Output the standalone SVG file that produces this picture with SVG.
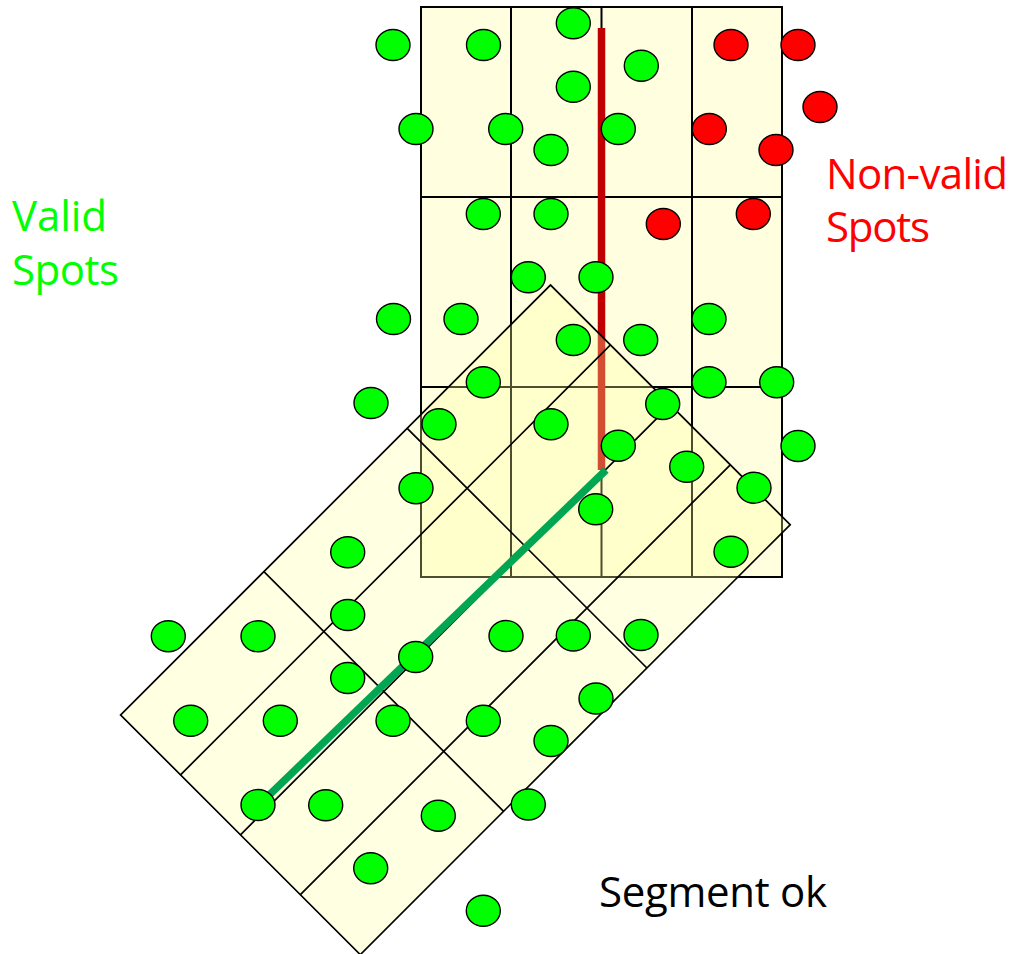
<svg xmlns="http://www.w3.org/2000/svg" width="1015" height="954" viewBox="0 0 1015 954">
<style>
.cell{fill:#ffffe0;stroke:#000;stroke-width:2}
.rgrid{fill:none;stroke:#000;stroke-width:1.7}
.g{fill:#00ff00;stroke:#000;stroke-width:1.4}
.r{fill:#ff0000;stroke:#000;stroke-width:1.4}
.lbl{font-family:"Open Sans","Noto Sans",sans-serif;font-size:42px}
</style>
<defs>
<ellipse id="spot" cx="0" cy="0" rx="17" ry="15.5"/>
</defs>
<rect width="1015" height="954" fill="#fff"/>
<g id="vertical-grid">
<rect class="cell" x="421" y="7" width="361" height="570"/>
<path d="M511,7V577M601.5,7V577M692,7V577M421,197H782M421,387H782" fill="none" stroke="#000" stroke-width="2"/>
</g>
<g id="connectors">
<line id="red-segment" x1="601.5" y1="28" x2="601.5" y2="470" stroke="#c00000" stroke-width="7.5"/>
</g>
<g id="rotated-grid" transform="translate(550.5,285) rotate(45)">
<rect x="0" y="0" width="339" height="608" fill="#ffffa0" fill-opacity="0.3"/>
<rect class="rgrid" x="0" y="0" width="339" height="608"/>
<path class="rgrid" d="M84.75,0V608M169.5,0V608M254.25,0V608M0,202.67H339M0,405.33H339"/>
</g>
<g id="connectors-green">
<line id="green-segment" x1="606" y1="470" x2="262" y2="802" stroke="#00a651" stroke-width="7.5"/>
</g>
<g id="valid-spots">
<g id="g1"><use href="#spot" class="g" x="393" y="45"/></g>
<g id="g2"><use href="#spot" class="g" x="483.5" y="45"/></g>
<g id="g3"><use href="#spot" class="g" x="573.3" y="23.3"/></g>
<g id="g4"><use href="#spot" class="g" x="641.3" y="65.7"/></g>
<g id="g5"><use href="#spot" class="g" x="573.3" y="86.7"/></g>
<g id="g6"><use href="#spot" class="g" x="416" y="129"/></g>
<g id="g7"><use href="#spot" class="g" x="505.7" y="129"/></g>
<g id="g8"><use href="#spot" class="g" x="551" y="150"/></g>
<g id="g9"><use href="#spot" class="g" x="618.3" y="129"/></g>
<g id="g10"><use href="#spot" class="g" x="483.3" y="214"/></g>
<g id="g11"><use href="#spot" class="g" x="551" y="214"/></g>
<g id="g12"><use href="#spot" class="g" x="528.3" y="277.3"/></g>
<g id="g13"><use href="#spot" class="g" x="596" y="277.3"/></g>
<g id="g14"><use href="#spot" class="g" x="393.5" y="319"/></g>
<g id="g15"><use href="#spot" class="g" x="461" y="319"/></g>
<g id="g16"><use href="#spot" class="g" x="573.3" y="340"/></g>
<g id="g17"><use href="#spot" class="g" x="640.7" y="340"/></g>
<g id="g18"><use href="#spot" class="g" x="709" y="319"/></g>
<g id="g19"><use href="#spot" class="g" x="483.3" y="382.3"/></g>
<g id="g20"><use href="#spot" class="g" x="709" y="382.3"/></g>
<g id="g21"><use href="#spot" class="g" x="776.7" y="382.3"/></g>
<g id="g22"><use href="#spot" class="g" x="371" y="403"/></g>
<g id="g23"><use href="#spot" class="g" x="439" y="424.3"/></g>
<g id="g24"><use href="#spot" class="g" x="551" y="424.3"/></g>
<g id="g25"><use href="#spot" class="g" x="662.7" y="404"/></g>
<g id="g26"><use href="#spot" class="g" x="618.3" y="445.7"/></g>
<g id="g27"><use href="#spot" class="g" x="798" y="446"/></g>
<g id="g28"><use href="#spot" class="g" x="686.7" y="466.7"/></g>
<g id="g29"><use href="#spot" class="g" x="416" y="488.3"/></g>
<g id="g30"><use href="#spot" class="g" x="754" y="487.7"/></g>
<g id="g31"><use href="#spot" class="g" x="595.7" y="509.3"/></g>
<g id="g32"><use href="#spot" class="g" x="731" y="551.7"/></g>
<g id="g33"><use href="#spot" class="g" x="347.7" y="552.3"/></g>
<g id="g34"><use href="#spot" class="g" x="347.7" y="615"/></g>
<g id="g35"><use href="#spot" class="g" x="168.3" y="636.3"/></g>
<g id="g36"><use href="#spot" class="g" x="258" y="636.3"/></g>
<g id="g37"><use href="#spot" class="g" x="506" y="636"/></g>
<g id="g38"><use href="#spot" class="g" x="573.3" y="635.5"/></g>
<g id="g39"><use href="#spot" class="g" x="641" y="635"/></g>
<g id="g40"><use href="#spot" class="g" x="415.7" y="657"/></g>
<g id="g41"><use href="#spot" class="g" x="347.7" y="678"/></g>
<g id="g42"><use href="#spot" class="g" x="596" y="698.5"/></g>
<g id="g43"><use href="#spot" class="g" x="190.7" y="720.7"/></g>
<g id="g44"><use href="#spot" class="g" x="280.3" y="720.7"/></g>
<g id="g45"><use href="#spot" class="g" x="393" y="720.7"/></g>
<g id="g46"><use href="#spot" class="g" x="483.3" y="720.7"/></g>
<g id="g47"><use href="#spot" class="g" x="551" y="741"/></g>
<g id="g48"><use href="#spot" class="g" x="258" y="805"/></g>
<g id="g49"><use href="#spot" class="g" x="325.7" y="805.3"/></g>
<g id="g50"><use href="#spot" class="g" x="438.3" y="815.7"/></g>
<g id="g51"><use href="#spot" class="g" x="528.3" y="804.5"/></g>
<g id="g52"><use href="#spot" class="g" x="370.7" y="868.3"/></g>
<g id="g53"><use href="#spot" class="g" x="483.3" y="910.7"/></g>
</g>
<g id="nonvalid-spots">
<g id="r1"><use href="#spot" class="r" x="731" y="45"/></g>
<g id="r2"><use href="#spot" class="r" x="798" y="45"/></g>
<g id="r3"><use href="#spot" class="r" x="820" y="107"/></g>
<g id="r4"><use href="#spot" class="r" x="709.3" y="129"/></g>
<g id="r5"><use href="#spot" class="r" x="776" y="150"/></g>
<g id="r6"><use href="#spot" class="r" x="663.3" y="224"/></g>
<g id="r7"><use href="#spot" class="r" x="753.3" y="214"/></g>
</g>
<g id="labels">
<text class="lbl" x="12" y="230.5" fill="#00ff00" textLength="95">Valid</text>
<text class="lbl" x="12" y="284.5" fill="#00ff00" textLength="107">Spots</text>
<text class="lbl" x="826" y="188.5" fill="#ff0000" textLength="182">Non-valid</text>
<text class="lbl" x="826" y="242" fill="#ff0000" textLength="104">Spots</text>
<text class="lbl" x="599" y="906.5" fill="#000" textLength="228">Segment ok</text>
</g>
</svg>
